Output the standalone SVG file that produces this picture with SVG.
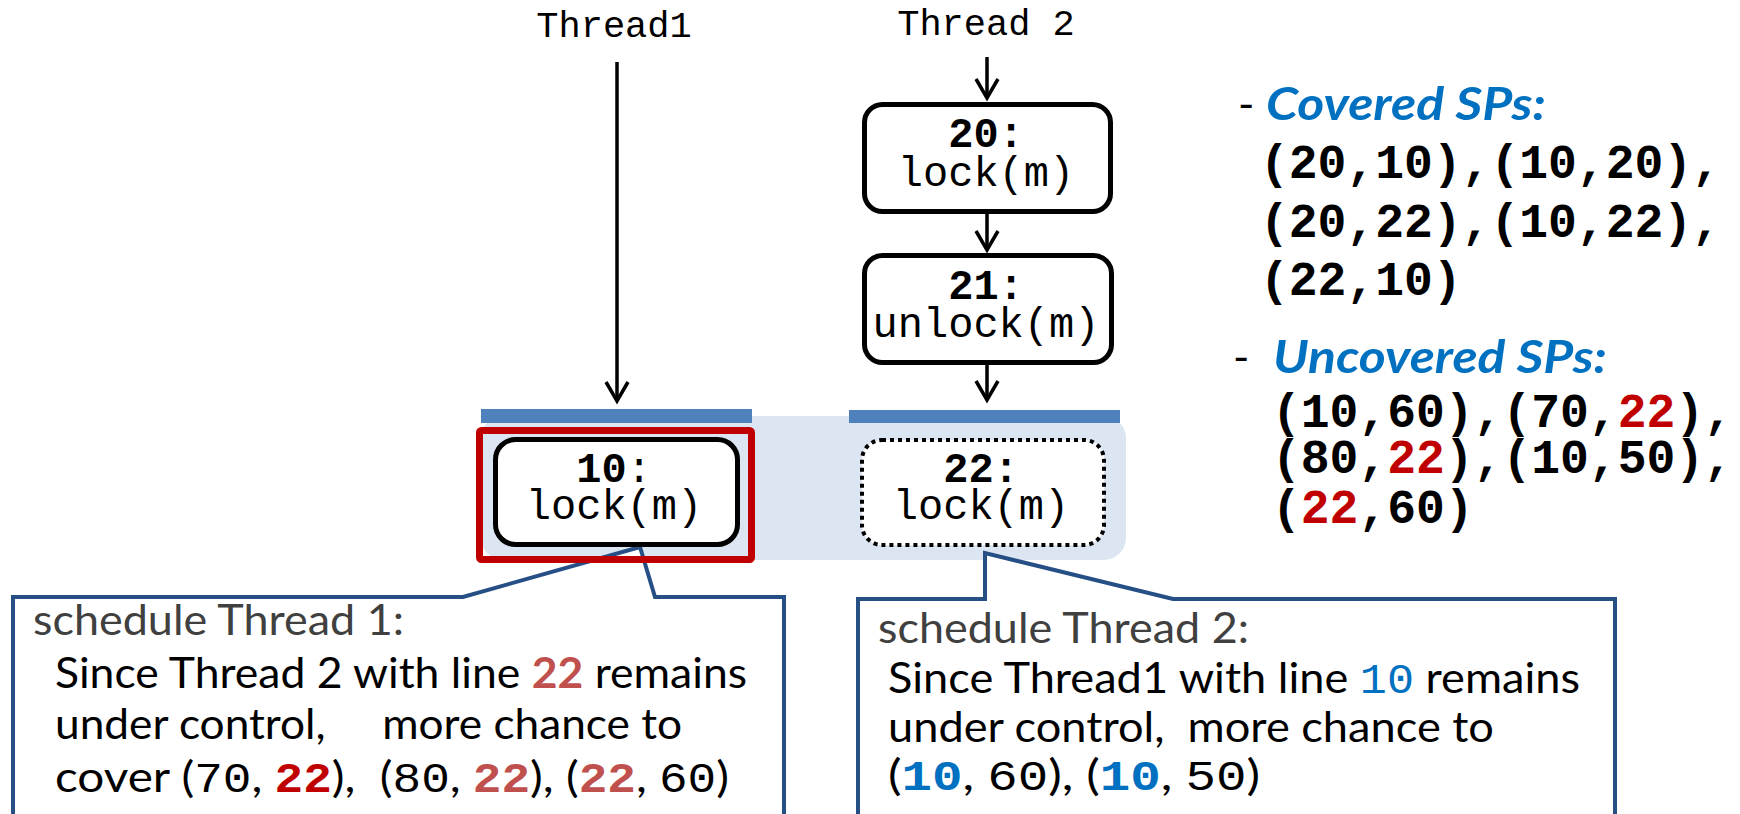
<svg xmlns="http://www.w3.org/2000/svg" width="1740" height="814" viewBox="0 0 1740 814">
  <style>
    .mono { font-family: "Liberation Mono", "Courier New", monospace; }
    .sans { font-family: Lato, "Liberation Sans", sans-serif; }
    .b { font-weight: bold; }
    .lbl { font-size: 37px; fill: #000; text-anchor: middle; }
    .node { fill: #fff; stroke: #000; stroke-width: 5; }
    .dotted { stroke-width: 4; stroke-dasharray: 4 4; }
    .ntxt { font-size: 42px; fill: #000; text-anchor: middle; }
    .flow { stroke: #000; stroke-width: 3.5; fill: none; marker-end: url(#arrow); }
    .callout { fill: #fff; stroke: #264f86; stroke-width: 4; stroke-linejoin: miter; }
    .head { fill: #404040; font-size: 42px; }
    .body { fill: #000; font-size: 42px; }
    .sp { font-size: 48px; font-weight: bold; fill: #000; }
    .title { font-size: 46px; font-weight: bold; font-style: italic; fill: #0070c0; }
    .dash { font-size: 44px; fill: #000; }
    .red { fill: #c00000; }
    .salmon { fill: #c0504d; }
    .blue { fill: #0070c0; }
    .bar { fill: #4f81bd; }
  </style>
  <defs>
    <marker id="arrow" markerUnits="userSpaceOnUse" markerWidth="40" markerHeight="40" refX="0" refY="0" orient="auto" overflow="visible">
      <path d="M-19,-11 L0,0 L-19,11" fill="none" stroke="#000" stroke-width="3.5"/>
    </marker>
  </defs>

  <!-- thread headers -->
  <g id="thread1-label">
    <text class="mono lbl" x="614" y="37">Thread1</text>
  </g>
  <g id="thread2-label">
    <text class="mono lbl" x="986" y="35">Thread 2</text>
  </g>

  <!-- scheduling point band -->
  <g id="sched-band">
    <rect x="481" y="416" width="645" height="144" rx="22" fill="#dce6f2"/>
    <rect class="bar" x="481" y="409" width="271" height="14"/>
    <rect class="bar" x="849" y="410" width="271" height="13"/>
  </g>

  <!-- connectors -->
  <g id="connectors">
    <line class="flow" x1="617" y1="62" x2="617" y2="401"/>
    <line class="flow" x1="987" y1="57" x2="987" y2="98"/>
    <line class="flow" x1="987" y1="214" x2="987" y2="250"/>
    <line class="flow" x1="987" y1="365" x2="987" y2="400"/>
  </g>

  <!-- callouts -->
  <g id="callout-thread1">
    <polygon class="callout" points="13,830 13,597 463,597 640,547 655,597 784,597 784,830"/>
    <text class="sans head" x="33" y="635" textLength="371" lengthAdjust="spacingAndGlyphs">schedule Thread 1:</text>
    <text class="sans body" x="55" y="688" textLength="692" lengthAdjust="spacingAndGlyphs">Since Thread 2 with line <tspan class="b salmon">22</tspan> remains</text>
    <text class="sans body" x="55" y="739" textLength="627" lengthAdjust="spacingAndGlyphs">under control,&#160;&#160;&#160;&#160; more chance to</text>
    <text class="sans body" x="55" y="792" textLength="674" lengthAdjust="spacingAndGlyphs">cover (<tspan class="mono">70</tspan>, <tspan class="mono b red">22</tspan>),&#160; (<tspan class="mono">80</tspan>, <tspan class="mono b salmon">22</tspan>), (<tspan class="mono b salmon">22</tspan>, <tspan class="mono">60</tspan>)</text>
  </g>
  <g id="callout-thread2">
    <polygon class="callout" points="858,830 858,599 985,599 985,553 1173,599 1615,599 1615,830"/>
    <text class="sans head" x="878" y="643" textLength="371" lengthAdjust="spacingAndGlyphs">schedule Thread 2:</text>
    <text class="sans body" x="888" y="693" textLength="692" lengthAdjust="spacingAndGlyphs">Since Thread1 with line <tspan class="mono blue">10</tspan> remains</text>
    <text class="sans body" x="888" y="742" textLength="606" lengthAdjust="spacingAndGlyphs">under control,&#160; more chance to</text>
    <text class="sans body" x="888" y="790" textLength="372" lengthAdjust="spacingAndGlyphs">(<tspan class="mono b blue">10</tspan>, <tspan class="mono">60</tspan>), (<tspan class="mono b blue">10</tspan>, <tspan class="mono">50</tspan>)</text>
  </g>

  <!-- thread 2 nodes -->
  <g id="node-20">
    <rect class="node" x="864.5" y="104.5" width="246" height="107" rx="18"/>
    <text class="mono ntxt b" x="986" y="147">20:</text>
    <text class="mono ntxt" x="986" y="186">lock(m)</text>
  </g>
  <g id="node-21">
    <rect class="node" x="864.5" y="255.5" width="247" height="107" rx="18"/>
    <text class="mono ntxt b" x="986" y="299">21:</text>
    <text class="mono ntxt" x="986" y="337">unlock(m)</text>
  </g>

  <!-- selected thread highlight -->
  <g id="selected-frame">
    <rect x="479.5" y="430.5" width="272" height="129" rx="2" fill="none" stroke="#c00000" stroke-width="7"/>
  </g>

  <!-- pending nodes -->
  <g id="node-10">
    <rect class="node" x="495.5" y="439.5" width="242" height="105" rx="20"/>
    <text class="mono ntxt" x="614" y="482"><tspan class="b">10</tspan>:</text>
    <text class="mono ntxt" x="614" y="519">lock(m)</text>
  </g>
  <g id="node-22">
    <rect class="node dotted" x="862" y="440" width="242" height="105" rx="20"/>
    <text class="mono ntxt b" x="981" y="482">22:</text>
    <text class="mono ntxt" x="981" y="519">lock(m)</text>
  </g>

  <!-- scheduling pair summary -->
  <g id="covered">
    <text class="sans dash" x="1238" y="120">-</text>
    <text class="sans title" x="1266" y="120" textLength="280" lengthAdjust="spacingAndGlyphs">Covered SPs:</text>
    <text class="mono sp" x="1260" y="178">(20,10),(10,20),</text>
    <text class="mono sp" x="1260" y="237">(20,22),(10,22),</text>
    <text class="mono sp" x="1260" y="295">(22,10)</text>
  </g>
  <g id="uncovered">
    <text class="sans dash" x="1233" y="373">-</text>
    <text class="sans title" x="1273" y="373" textLength="334" lengthAdjust="spacingAndGlyphs">Uncovered SPs:</text>
    <text class="mono sp" x="1272" y="427">(10,60),(70,<tspan class="red">22</tspan>),</text>
    <text class="mono sp" x="1272" y="473">(80,<tspan class="red">22</tspan>),(10,50),</text>
    <text class="mono sp" x="1272" y="523">(<tspan class="red">22</tspan>,60)</text>
  </g>
</svg>
